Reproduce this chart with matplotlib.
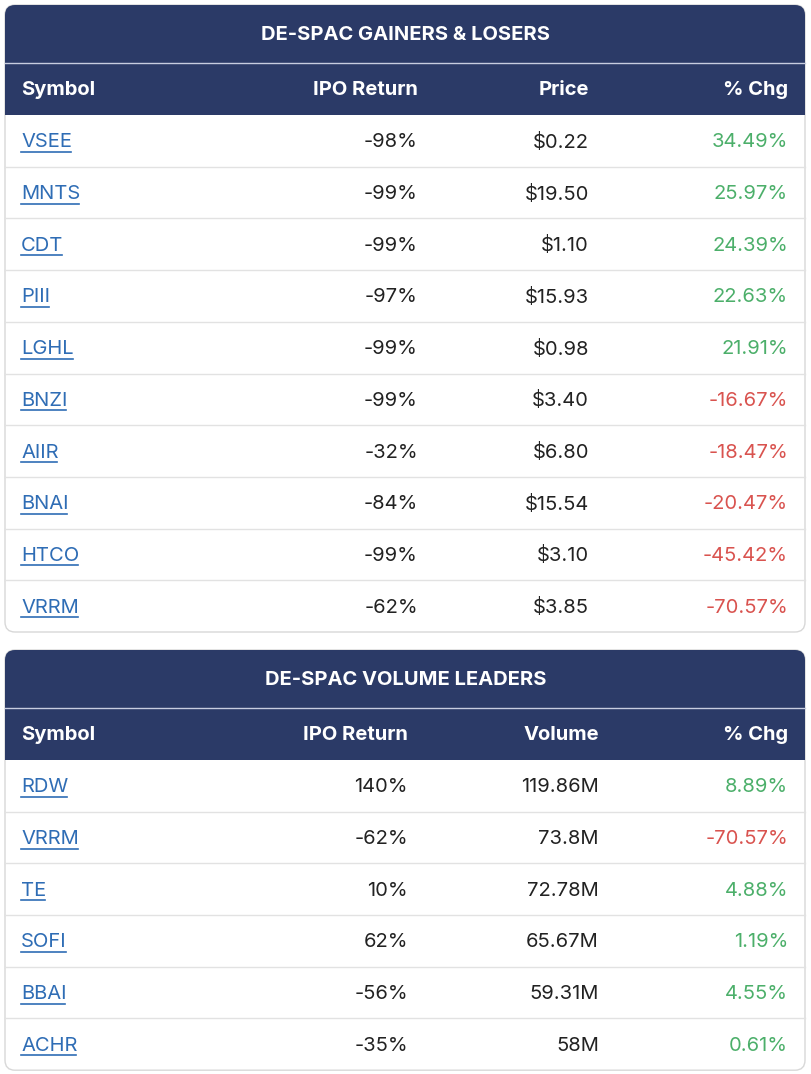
import matplotlib.pyplot as plt
from matplotlib.patches import FancyBboxPatch, Rectangle

plt.rcParams['font.family'] = ['Inter', 'DejaVu Sans']

NAVY = '#2b3a67'
GREEN = '#4caf6a'
RED = '#d9534f'
LINK = '#2f6db5'
FS = 14.5

# Tabla 1: ganadores y perdedores
sym1 = ['VSEE', 'MNTS', 'CDT', 'PIII', 'LGHL', 'BNZI', 'AIIR', 'BNAI', 'HTCO', 'VRRM']
ipo1 = ['-98%', '-99%', '-99%', '-97%', '-99%', '-99%', '-32%', '-84%', '-99%', '-62%']
price1 = ['$0.22', '$19.50', '$1.10', '$15.93', '$0.98', '$3.40', '$6.80', '$15.54', '$3.10', '$3.85']
chg1 = [34.49, 25.97, 24.39, 22.63, 21.91, -16.67, -18.47, -20.47, -45.42, -70.57]

# Tabla 2: líderes de volumen
sym2 = ['RDW', 'VRRM', 'TE', 'SOFI', 'BBAI', 'ACHR']
ipo2 = ['140%', '-62%', '10%', '62%', '-56%', '-35%']
vol2 = ['119.86M', '73.8M', '72.78M', '65.67M', '59.31M', '58M']
chg2 = [8.89, -70.57, 4.88, 1.19, 4.55, 0.61]

fig = plt.figure(figsize=(8.12, 10.74), dpi=100)
ax = fig.add_axes([0, 0, 1, 1])
ax.set_xlim(0, 812)
ax.set_ylim(1074, 0)
ax.axis('off')

links = []


def tabla(top, title, headers, hx, cols, chg, step=51.7):
    n = len(chg)
    bottom = top + 110 + n * step
    ax.add_patch(FancyBboxPatch((5, top), 800, bottom - top, boxstyle='round,pad=0,rounding_size=10',
                                fc='white', ec='#d8d8d8', lw=1))
    ax.add_patch(FancyBboxPatch((5, top), 800, 110, boxstyle='round,pad=0,rounding_size=10',
                                fc=NAVY, ec='none'))
    ax.add_patch(Rectangle((5, top + 60), 800, 50, fc=NAVY, ec='none'))
    ax.plot([5, 805], [top + 58, top + 58], color='#c8cde0', lw=1)
    ax.text(406, top + 30, title, color='white', fontsize=FS, weight='bold', ha='center', va='center')
    ax.text(21, top + 85, headers[0], color='white', fontsize=FS, weight='bold', va='center')
    for h, x in zip(headers[1:], hx):
        ax.text(x, top + 85, h, color='white', fontsize=FS, weight='bold', ha='right', va='center')
    for i in range(n):
        y = top + 110 + (i + 0.5) * step
        if i > 0:
            ax.plot([5, 805], [y - step / 2] * 2, color='#e2e2e2', lw=1)
        ty = y + 1.5
        t = ax.text(21, ty, cols[0][i], color=LINK, fontsize=FS, va='center')
        links.append((t, ty))
        ax.text(hx[0], ty, cols[1][i], color='#222222', fontsize=FS, ha='right', va='center')
        ax.text(hx[1], ty, cols[2][i], color='#222222', fontsize=FS, ha='right', va='center')
        c = chg[i]
        ax.text(hx[2], ty, f'{c:.2f}%', color=GREEN if c >= 0 else RED, fontsize=FS, ha='right', va='center')


tabla(5, 'DE-SPAC GAINERS & LOSERS', ['Symbol', 'IPO Return', 'Price', '% Chg'],
      [418, 589, 788], [sym1, ipo1, price1], chg1)
tabla(650, 'DE-SPAC VOLUME LEADERS', ['Symbol', 'IPO Return', 'Volume', '% Chg'],
      [408, 599, 788], [sym2, ipo2, vol2], chg2)

# subrayado de los enlaces
fig.canvas.draw()
r = fig.canvas.get_renderer()
for t, y in links:
    bb = t.get_window_extent(r)
    ax.plot([21, 21 + bb.width - 1], [y + 9.5, y + 9.5], color=LINK, lw=1.2)

fig.savefig('out.png', dpi=100)
